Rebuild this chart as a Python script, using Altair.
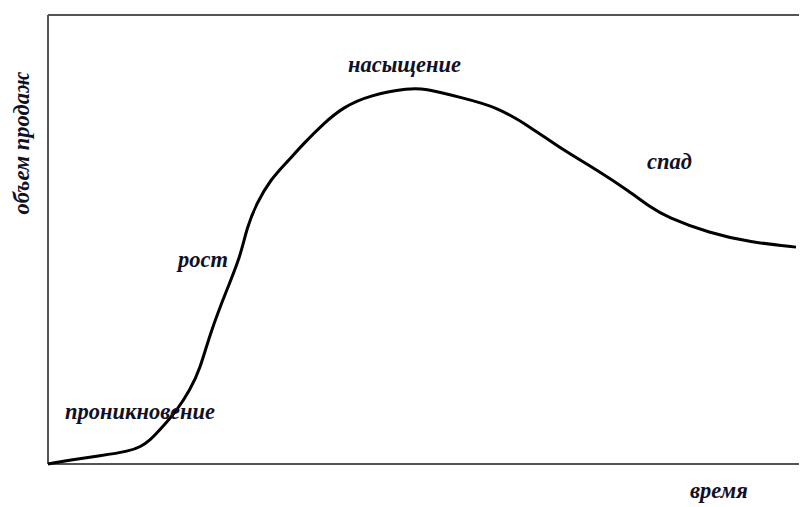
import altair as alt
import pandas as pd

# Product life-cycle curve (time 0..100, sales volume 0..100)
time = [0, 2.9, 6.9, 10.9, 12.3, 13.6, 14.9, 17.2, 18.9, 20.2, 21.6, 23.8, 25.6, 26.5,
        27.8, 29.6, 31.8, 34.0, 36.6, 39.3, 42.9, 48.2, 49.9, 55.3, 59.8, 64.2, 68.6,
        73.1, 77.5, 80.2, 82.4, 88.1, 93.5, 99.6]
sales = [0.0, 0.9, 1.8, 2.9, 3.8, 5.3, 7.6, 12.0, 16.5, 20.9, 29.2, 38.8, 46.1, 52.8,
         58.1, 63.3, 67.2, 71.3, 75.7, 79.5, 82.2, 83.7, 83.7, 81.5, 79.5, 75.1, 69.9,
         65.5, 60.6, 57.2, 55.0, 51.4, 49.4, 48.3]

stage_labels = ["проникновение", "рост", "насыщение", "спад"]
x_title = "время"
y_title = "объем продаж"

W, H = 751, 449
FONT = "Liberation Serif"
TXT = "#111126"

df = pd.DataFrame({"t": time, "s": sales})

xs = alt.Scale(domain=[0, 100], nice=False)
ys = alt.Scale(domain=[0, 100], nice=False)

curve = alt.Chart(df).mark_line(color="black", strokeWidth=3, interpolate="basis").encode(
    x=alt.X("t:Q", scale=xs, axis=None),
    y=alt.Y("s:Q", scale=ys, axis=None),
)

box_color = "#555555"
left_rule = alt.Chart(df).mark_rule(color=box_color, strokeWidth=1.6).encode(
    x=alt.value(0), y=alt.value(0), y2=alt.value(H))
top_rule = alt.Chart(df).mark_rule(color=box_color, strokeWidth=1.6).encode(
    x=alt.value(0), x2=alt.value(W), y=alt.value(0))
bottom_rule = alt.Chart(df).mark_rule(color=box_color, strokeWidth=1.6).encode(
    x=alt.value(0), x2=alt.value(W), y=alt.value(H))


def label(text, x, y, angle=0, align="left", size=22.5):
    return alt.Chart(pd.DataFrame({"l": [text]})).mark_text(
        font=FONT, fontSize=size, fontStyle="italic", fontWeight="bold",
        color=TXT, align=align, baseline="middle", angle=angle,
    ).encode(text="l:N", x=alt.value(x), y=alt.value(y))


labels = [
    label(stage_labels[0], 17, 397),
    label(stage_labels[1], 130, 245),
    label(stage_labels[2], 300, 50),
    label(stage_labels[3], 599, 147),
    label(x_title, 642, 476),
    label(y_title, -26, 128, angle=270, align="center"),
]

chart = alt.layer(left_rule, top_rule, bottom_rule, curve, *labels).properties(
    width=W, height=H,
    padding={"left": 40, "top": 7, "right": 0, "bottom": 43},
    autosize=alt.AutoSizeParams(type="none"),
).configure_view(stroke=None).configure(background="white")

chart.save("out.html", embed_options={"renderer": "svg", "actions": False})
